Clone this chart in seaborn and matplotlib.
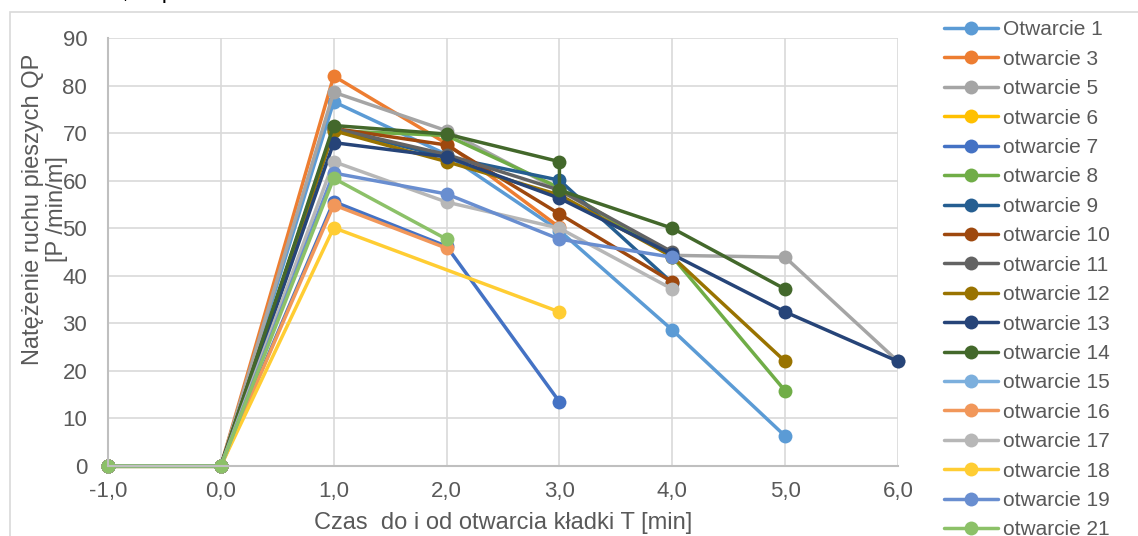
import numpy as np
import pandas as pd
import matplotlib
matplotlib.use("Agg")
import matplotlib.pyplot as plt
from matplotlib.patches import Rectangle
import seaborn as sns

sns.set_theme(style="white")
plt.rcParams['font.family'] = ['Liberation Sans', 'DejaVu Sans']

# czas [min]
T = [-1, 0, 1, 2, 3, 4, 5, 6]
nan = np.nan

otw1 = [0, 0, 76.6, 65.5, 49.5, 28.6, 6.3, nan]
otw3 = [0, 0, 82.0, 67.8, 50.2, nan, nan, nan]
otw5 = [0, 0, 78.6, 70.5, 58.0, 44.3, 43.9, 22.0]
otw6 = [0, 0, nan, nan, nan, nan, nan, nan]
otw7 = [0, 0, 55.6, 46.2, 13.5, nan, nan, nan]
otw8 = [0, 0, 70.5, 69.5, 58.5, 44.0, 15.8, nan]
otw9 = [0, 0, 70.8, 65.0, 60.1, 38.5, nan, nan]
otw10 = [0, 0, 71.0, 67.5, 53.0, 38.7, nan, nan]
otw11 = [0, 0, 71.0, 65.5, 58.0, 45.0, nan, nan]
otw12 = [0, 0, 70.5, 64.0, 57.0, 44.0, 22.0, nan]
otw13 = [0, 0, 68.0, 65.0, 56.3, 44.5, 32.4, 22.0]
T14 = [-1, 0, 1, 2, 3, 3, 4, 5]
otw14 = [0, 0, 71.6, 69.8, 64.0, 58.0, 50.0, 37.2]
otw15 = [0, 0, nan, nan, nan, nan, nan, nan]
otw16 = [0, 0, 54.9, 45.8, nan, nan, nan, nan]
otw17 = [0, 0, 64.0, 55.5, 50.0, 37.2, nan, nan]
otw18 = [0, 0, 50.1, nan, 32.4, nan, nan, nan]
otw19 = [0, 0, 61.6, 57.2, 47.7, 43.9, nan, nan]
otw21 = [0, 0, 60.5, 47.7, nan, nan, nan, nan]

names = ['Otwarcie 1', 'otwarcie 3', 'otwarcie 5', 'otwarcie 6', 'otwarcie 7',
         'otwarcie 8', 'otwarcie 9', 'otwarcie 10', 'otwarcie 11', 'otwarcie 12',
         'otwarcie 13', 'otwarcie 14', 'otwarcie 15', 'otwarcie 16', 'otwarcie 17',
         'otwarcie 18', 'otwarcie 19', 'otwarcie 21']
series = [otw1, otw3, otw5, otw6, otw7, otw8, otw9, otw10, otw11, otw12,
          otw13, otw14, otw15, otw16, otw17, otw18, otw19, otw21]
xs = [T] * 11 + [T14] + [T] * 6
colors = ['#5B9BD5', '#ED7D31', '#A5A5A5', '#FFC000', '#4472C4', '#70AD47',
          '#255E91', '#9E480E', '#636363', '#997300', '#264478', '#43682B',
          '#7CAFDD', '#F1975A', '#B7B7B7', '#FFCD33', '#698ED0', '#8CC168']

rows = []
for n, x, y in zip(names, xs, series):
    for i, (a, b) in enumerate(zip(x, y)):
        if not np.isnan(b):
            rows.append((n, a, b, i))
df = pd.DataFrame(rows, columns=['seria', 'T', 'QP', 'i'])

fig = plt.figure(figsize=(11.38, 5.36), dpi=100)
ax = fig.add_axes([108/1138, 1-466/536, (898-108)/1138, (466-38)/536])

sns.lineplot(data=df, x='T', y='QP', hue='seria', hue_order=names,
             palette=dict(zip(names, colors)), estimator=None, sort=False,
             marker='o', markersize=10, markeredgewidth=0, linewidth=2.5,
             ax=ax, legend=True)

ax.set_xlim(-1, 6)
ax.set_ylim(0, 90)
ax.set_xticks(T)
ax.set_xticklabels([f"{v:.1f}".replace('.', ',') for v in T])
ax.set_yticks(range(0, 91, 10))
ax.grid(True, color='#D9D9D9', linewidth=1.2)
ax.set_axisbelow(True)
for s in ['top', 'right']:
    ax.spines[s].set_visible(False)
for s in ['left', 'bottom']:
    ax.spines[s].set_color('#BFBFBF')
    ax.spines[s].set_linewidth(1.5)
ax.tick_params(colors='#595959', labelsize=16, length=0)
ax.tick_params(axis='y', pad=15)
ax.tick_params(axis='x', pad=11)
for c in ax.collections + ax.lines:
    c.set_clip_on(False)

ax.set_xlabel('Czas  do i od otwarcia kładki T [min]', fontsize=17, color='#595959', labelpad=7)
ax.set_ylabel('Natężenie ruchu pieszych QP\n[P /min/m]', fontsize=17, color='#595959',
              linespacing=1.15)
ax.yaxis.set_label_coords(-0.05, 0.6)

h, l = ax.get_legend_handles_labels()
ax.legend(h, l, loc='upper left', bbox_to_anchor=(936/1138, 1-12/536),
          bbox_transform=fig.transFigure, frameon=False, fontsize=15,
          labelcolor='#595959', handlelength=2.6, handletextpad=0.2,
          labelspacing=0.5, borderaxespad=0)

fig.patches.append(Rectangle((10/1138, -0.1), 1.2, 1.1 - 12/536, transform=fig.transFigure,
                             fill=False, edgecolor='#D9D9D9', linewidth=1.2))
fig.text(12/1138, 1.015, 'PMR lub 1,00 pr/m', fontsize=17, color='#000000', va='center', ha='left')

plt.savefig('out.png', dpi=100)
